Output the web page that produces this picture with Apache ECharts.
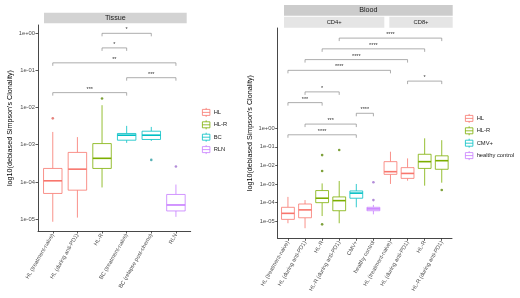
<!DOCTYPE html>
<html>
<head>
<meta charset="utf-8">
<script src="https://cdn.jsdelivr.net/npm/echarts@6/dist/echarts.min.js"></script>
<style>
html,body{margin:0;padding:0;background:#fff;}
#chart{width:520px;height:298px;}
</style>
</head>
<body>
<div id="chart"></div>
<script>
// ---------------- data ----------------
const tissueCategories = ['HL (treatment-naive)', 'HL (during anti-PD1)', 'HL-R', 'BC (treatment-naive)', 'BC (relapse post-chemo)', 'RLN'];
const tissueGroups = ['HL', 'HL', 'HL-R', 'BC', 'BC', 'RLN'];
const tissueMin    = [8.5e-6, 1.1e-5, 7.1e-5, 1.12e-3, 1.26e-3, 1.15e-5];
const tissueQ1     = [4.9e-5, 6.0e-5, 2.3e-4, 1.32e-3, 1.38e-3, 1.66e-5];
const tissueMedian = [1.07e-4, 2.2e-4, 4.3e-4, 1.8e-3, 1.8e-3, 2.4e-5];
const tissueQ3     = [2.3e-4, 6.2e-4, 1.07e-3, 2.0e-3, 2.3e-3, 4.6e-5];
const tissueMax    = [2.2e-3, 1.6e-3, 1.15e-2, 3.2e-3, 3.0e-3, 8.5e-5];
const tissueOutliers = [[0, 5.1e-3], [2, 1.74e-2], [4, 3.9e-4], [5, 2.6e-4]];
const tissueComparisons = [[0, 3, '***'], [3, 5, '***'], [0, 5, '**'], [2, 3, '*'], [2, 4, '*']];
const tissueBracketY = [0.025, 0.063, 0.158, 0.398, 0.98];
const tissueLegend = ['HL', 'HL-R', 'BC', 'RLN'];

const bloodCategories = ['HL (treatment-naive)', 'HL (during anti-PD1)', 'HL-R', 'HL-R (during anti-PD1)', 'CMV+', 'healthy control',
                         'HL (treatment-naive)', 'HL (during anti-PD1)', 'HL-R', 'HL-R (during anti-PD1)'];
const bloodGroups = ['HL', 'HL', 'HL-R', 'HL-R', 'CMV+', 'healthy control', 'HL', 'HL', 'HL-R', 'HL-R'];
const bloodMin    = [7.6e-6, 4.1e-6, 1.86e-5, 7.6e-6, 5.5e-5, 2.3e-5, 1.0e-3, 1.5e-3, 8.1e-4, 1.17e-3];
const bloodQ1     = [1.23e-5, 1.5e-5, 9.8e-5, 3.6e-5, 1.7e-4, 3.6e-5, 3.3e-3, 2.0e-3, 6.9e-3, 6.2e-3];
const bloodMedian = [2.6e-5, 4.0e-5, 1.7e-4, 1.26e-4, 3.2e-4, 4.5e-5, 4.6e-3, 3.7e-3, 1.6e-2, 1.8e-2];
const bloodQ3     = [5.5e-5, 8.3e-5, 4.4e-4, 2.0e-4, 4.2e-4, 5.5e-5, 1.6e-2, 7.6e-3, 4.0e-2, 3.3e-2];
const bloodMax    = [2.0e-4, 1.35e-4, 1.07e-3, 1.45e-3, 1.0e-3, 7.4e-5, 5.5e-2, 2.4e-2, 0.29, 0.23];
const bloodOutliers = [[2, 3.6e-2], [2, 5.0e-3], [2, 6.6e-6], [3, 6.8e-2], [5, 1.23e-3], [5, 1.35e-4], [9, 4.7e-4]];
const bloodComparisons = [[0, 4, '****'], [1, 4, '***'], [4, 5, '****'], [0, 2, '***'], [1, 3, '*'],
                          [7, 9, '*'], [0, 6, '****'], [1, 7, '****'], [2, 8, '****'], [3, 9, '****']];
const bloodBracketY = [0.45, 1.7, 6.5, 24.5, 93, 355, 1350, 5130, 19500, 74100];
const bloodLegend = ['HL', 'HL-R', 'CMV+', 'healthy control'];

const yTickValues = [1e-5, 1e-4, 1e-3, 1e-2, 1e-1, 1];
const yTickLabels = ['1e-05', '1e-04', '1e-03', '1e-02', '1e-01', '1e+00'];
const tissueYRange = [4.8e-6, 1.64];
const bloodYRange = [1.17e-6, 2.6e5];

const groupColors = { 'HL': '#F8766D', 'HL-R': '#7CAE00', 'BC': '#00BFC4', 'RLN': '#C77CFF', 'CMV+': '#00BFC4', 'healthy control': '#C77CFF' };
const outlierColors = { 'HL': '#E0645C', 'HL-R': '#5E8A0A', 'BC': '#2E9EA2', 'RLN': '#A070D0', 'CMV+': '#2E9EA2', 'healthy control': '#A070D0' };

// ---------------- helpers ----------------
const L = Math.log10;
const FONT = '"Liberation Sans", Arial, Helvetica, sans-serif';
const yTickLog = yTickValues.map(v => Math.round(L(v)));

function boxRender(params, api) {
  const x = api.value(0);
  const pMin = api.coord([x, api.value(1)]);
  const pQ1 = api.coord([x, api.value(2)]);
  const pMed = api.coord([x, api.value(3)]);
  const pQ3 = api.coord([x, api.value(4)]);
  const pMax = api.coord([x, api.value(5)]);
  const w = api.size([0.75, 0])[0];
  const c = pMed[0];
  const color = api.visual('color');
  return {
    type: 'group',
    children: [
      { type: 'line', shape: { x1: c, y1: pMax[1], x2: c, y2: pQ3[1] }, style: { stroke: color, lineWidth: 0.8 } },
      { type: 'line', shape: { x1: c, y1: pQ1[1], x2: c, y2: pMin[1] }, style: { stroke: color, lineWidth: 0.8 } },
      { type: 'rect', shape: { x: c - w / 2, y: pQ3[1], width: w, height: pQ1[1] - pQ3[1] }, style: { fill: '#fff', stroke: color, lineWidth: 0.8 } },
      { type: 'line', shape: { x1: c - w / 2, y1: pMed[1], x2: c + w / 2, y2: pMed[1] }, style: { stroke: color, lineWidth: 1.6 } }
    ]
  };
}

function bracketRenderer(labels) {
  return function (params, api) {
    const y = api.value(2);
    const p1 = api.coord([api.value(0), y]);
    const p2 = api.coord([api.value(1), y]);
    return {
      type: 'group',
      children: [
        { type: 'polyline', shape: { points: [[p1[0], p1[1] + 3], [p1[0], p1[1]], [p2[0], p2[1]], [p2[0], p2[1] + 3]] },
          style: { stroke: '#8a8a8a', lineWidth: 0.7, fill: null } },
        { type: 'text', style: { text: labels[params.dataIndex], x: (p1[0] + p2[0]) / 2, y: p1[1] - 0.5,
          align: 'center', verticalAlign: 'bottom', fontSize: 5.5, fill: '#333', fontFamily: FONT } }
      ]
    };
  };
}

function panelSeries(idx, groups, mins, q1s, meds, q3s, maxs, outliers, comps, bracketY) {
  const out = [];
  const uniq = [...new Set(groups)];
  uniq.forEach(g => {
    const data = [];
    groups.forEach((gg, i) => {
      if (gg === g) data.push([i, L(mins[i]), L(q1s[i]), L(meds[i]), L(q3s[i]), L(maxs[i])]);
    });
    out.push({
      type: 'custom', name: g, xAxisIndex: idx, yAxisIndex: idx,
      itemStyle: { color: groupColors[g] },
      renderItem: boxRender,
      encode: { x: 0, y: [1, 2, 3, 4, 5] },
      data: data, z: 3
    });
  });
  out.push({
    type: 'scatter', xAxisIndex: idx, yAxisIndex: idx, symbolSize: 2.6, z: 4,
    data: outliers.map(o => ({ value: [o[0], L(o[1])], itemStyle: { color: outlierColors[groups[o[0]]] } }))
  });
  out.push({
    type: 'custom', xAxisIndex: idx, yAxisIndex: idx, z: 5,
    renderItem: bracketRenderer(comps.map(c => c[2])),
    encode: { x: [0, 1], y: 2 },
    data: comps.map((c, k) => [c[0], c[1], L(bracketY[k])])
  });
  return out;
}

function xAxisFor(idx, cats) {
  const vals = cats.map((_, i) => i);
  return {
    type: 'value', gridIndex: idx, min: -0.6, max: cats.length - 0.4,
    axisLine: { show: true, onZero: false, lineStyle: { color: '#333', width: 0.9 } },
    axisTick: { show: true, customValues: vals, length: 2.5, lineStyle: { color: '#333', width: 0.8 } },
    axisLabel: { customValues: vals, rotate: 60, fontSize: 5.6, color: '#4D4D4D', margin: 3, fontFamily: FONT,
      formatter: v => cats[Math.round(v)] },
    splitLine: { show: false }
  };
}

function yAxisFor(idx, range) {
  return {
    type: 'value', gridIndex: idx, min: L(range[0]), max: L(range[1]),
    name: "log10(debiased Simpson's Clonality)", nameLocation: 'middle', nameGap: 24, nameRotate: 90,
    nameTextStyle: { fontSize: 7.2, color: '#000', fontFamily: FONT },
    axisLine: { show: true, onZero: false, lineStyle: { color: '#333', width: 0.9 } },
    axisTick: { show: true, customValues: yTickLog, length: 2.5, lineStyle: { color: '#333', width: 0.8 } },
    axisLabel: { customValues: yTickLog, fontSize: 5.8, color: '#4D4D4D', margin: 3, fontFamily: FONT,
      formatter: v => yTickLabels[yTickLog.indexOf(Math.round(v))] },
    splitLine: { show: false }
  };
}

const legendIcon = 'path://M5,0V2 M5,10V12 M0,2H10V10H0Z M0,6H10';
function legendFor(names, left, top) {
  return {
    orient: 'vertical', left: left, top: top, itemWidth: 9, itemHeight: 9, itemGap: 2.6, padding: 0,
    selectedMode: false,
    textStyle: { fontSize: 5.8, color: '#222', fontFamily: FONT, padding: [0, 0, 0, -2] },
    data: names.map(n => ({ name: n, icon: legendIcon,
      itemStyle: { color: '#fff', borderColor: groupColors[n], borderWidth: 0.8 } }))
  };
}

function strip(x, y, w, h, fill, text, size) {
  return [
    { type: 'rect', shape: { x: x, y: y, width: w, height: h }, style: { fill: fill }, silent: true },
    { type: 'text', x: x + w / 2, y: y + h / 2, style: { text: text, align: 'center', verticalAlign: 'middle',
      fontSize: size, fill: '#1A1A1A', fontFamily: FONT }, silent: true }
  ];
}

const option = {
  backgroundColor: '#fff',
  animation: false,
  grid: [
    { left: 38, top: 25, width: 152.7, height: 206 },
    { left: 277.7, top: 28, width: 174.3, height: 210.3 }
  ],
  xAxis: [xAxisFor(0, tissueCategories), xAxisFor(1, bloodCategories)],
  yAxis: [yAxisFor(0, tissueYRange), yAxisFor(1, bloodYRange)],
  legend: [legendFor(tissueLegend, 202, 107.5), legendFor(bloodLegend, 465, 113.5)],
  graphic: [].concat(
    strip(44, 12.7, 142.7, 10.6, '#D3D3D3', 'Tissue', 7.2),
    strip(284, 5, 168.7, 10.7, '#CCCCCC', 'Blood', 7.2),
    strip(284, 16.7, 100.3, 11, '#E5E5E5', 'CD4+', 5.8),
    strip(389.3, 16.7, 63.4, 11, '#E5E5E5', 'CD8+', 5.8)
  ),
  series: [].concat(
    panelSeries(0, tissueGroups, tissueMin, tissueQ1, tissueMedian, tissueQ3, tissueMax, tissueOutliers, tissueComparisons, tissueBracketY),
    panelSeries(1, bloodGroups, bloodMin, bloodQ1, bloodMedian, bloodQ3, bloodMax, bloodOutliers, bloodComparisons, bloodBracketY)
  )
};

const chart = echarts.init(document.getElementById('chart'), null, { renderer: 'canvas' });
chart.setOption(option);
</script>
</body>
</html>
